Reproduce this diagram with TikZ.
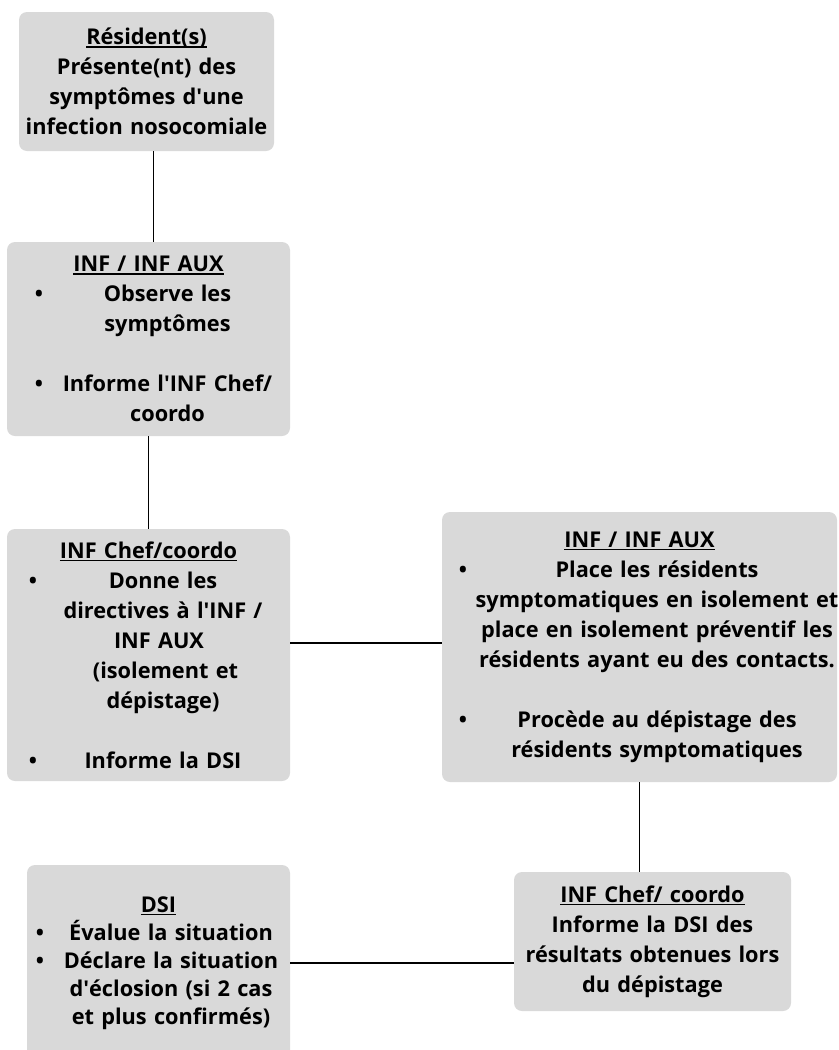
\documentclass[tikz,border=0pt]{standalone}
\usepackage{fontspec}
\setmainfont{Open Sans}
\usepackage{xcolor}
\usepackage{tikz}
\usetikzlibrary{positioning,calc}
\definecolor{BoxGray}{HTML}{D9D9D9}

\newlength\px \setlength\px{0.75pt}
\newlength\bulx \newlength\colA \newlength\colB \newlength\colC
\newcommand\titre[1]{\sbox0{#1}\rlap{\rule[-3\px]{\wd0}{1.5\px}}\usebox0}
\newcommand\puce[1]{\makebox[\colA][l]{\hspace*{\bulx}\makebox[0pt]{\textbullet}}\makebox[\colB]{#1}\makebox[\colC]{}}
\newcommand\suite[1]{\makebox[\colA]{}\makebox[\colB]{#1}\makebox[\colC]{}}
\newcommand\apo{\textquotesingle}

\begin{document}
\begin{tikzpicture}[
  x=0.75pt, y=-0.75pt,
  box/.style={fill=BoxGray, rounded corners=6pt, inner sep=0pt, align=center,
    font=\fontsize{16.3}{22.5}\selectfont\bfseries},
  cols/.style n args={4}{execute at begin node={\setlength\bulx{#1\px}%
    \setlength\colA{#2\px}\setlength\colB{#3\px}\setlength\colC{#4\px}}},
  link/.style={draw=black, line width=0.8pt}
]
  \useasboundingbox (0,0) rectangle (839,1050);
  \clip (0,0) rectangle (839,1050);

  \node[box, minimum width=255\px, minimum height=139\px, text width=255\px] (res) at (146.5,81.5)
    {\titre{Résident(s)}\\Présente(nt) des\\symptômes d\apo une\\infection nosocomiale};
  \node[box, cols={32}{53}{215}{15}, minimum width=283\px, minimum height=194\px, text width=283\px] (obs) at (148.5,339)
    {\titre{INF / INF AUX}\\
     \puce{Observe les}\\
     \suite{symptômes}\\[30\px]
     \puce{Informe l\apo INF Chef/}\\
     \suite{coordo}};
  \node[box, cols={26}{48}{216}{19}, minimum width=283\px, minimum height=252\px, text width=283\px] (chef) at (148.5,655)
    {\titre{INF Chef/coordo}\\
     \puce{Donne les}\\
     \suite{directives à l\apo INF /}\\
     \suite{INF AUX\hspace*{8\px}}\\
     \suite{\hspace*{5\px}(isolement et}\\
     \suite{dépistage)}\\[30\px]
     \puce{Informe la DSI}};
  \node[box, cols={21}{36}{358}{1}, minimum width=395\px, minimum height=270\px, text width=395\px] (iso) at (639.5,647)
    {\titre{INF / INF AUX}\\
     \puce{Place les résidents}\\
     \suite{symptomatiques en isolement et}\\
     \suite{place en isolement préventif les}\\
     \suite{résidents ayant eu des contacts.}\\[30\px]
     \puce{Procède au dépistage des}\\
     \suite{résidents symptomatiques}};
  \node[box, minimum width=277\px, minimum height=139\px, text width=277\px] (cinf) at (652.5,941.5)
    {\titre{INF Chef/ coordo}\\Informe la DSI des\\résultats obtenues lors\\du dépistage};
  \node[box, cols={13}{37}{214}{12}, font=\fontsize{16.3}{21}\selectfont\bfseries,
    minimum width=263\px, minimum height=196\px, text width=263\px] (dsi) at (158.5,963)
    {\titre{DSI}\\
     \puce{Évalue la situation}\\
     \puce{Déclare la situation}\\
     \suite{d\apo éclosion (si 2 cas}\\
     \suite{et plus confirmés)}};

  % connectors
  \coordinate (r1) at ([xshift=7\px]res.south);
  \coordinate (c1) at ([yshift=4\px]iso.west);
  \draw[link] (r1) -- (r1 |- obs.north);
  \draw[link] (obs.south) -- (chef.north);
  \draw[link] (c1) -- (c1 -| chef.east);
  \draw[link] (iso.south) -- (iso.south |- cinf.north);
  \draw[link] (dsi.east) -- (dsi.east -| cinf.west);
\end{tikzpicture}
\end{document}
